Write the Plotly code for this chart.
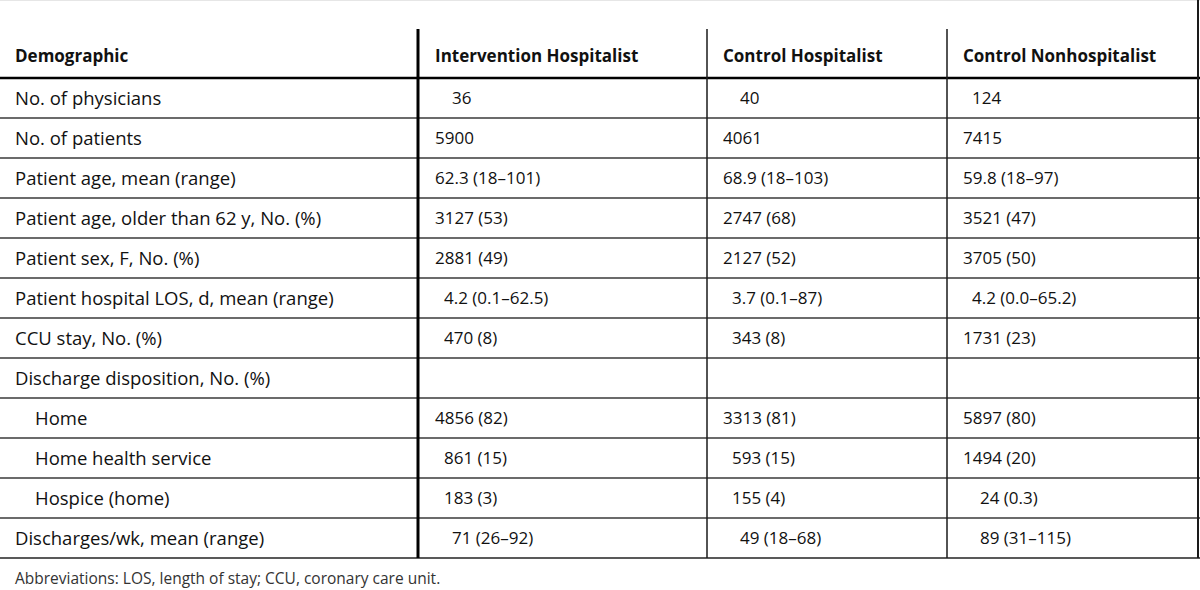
import plotly.graph_objects as go

# ---- data ----
headers = ["Demographic", "Intervention Hospitalist", "Control Hospitalist", "Control Nonhospitalist"]
demographics = [
    "No. of physicians",
    "No. of patients",
    "Patient age, mean (range)",
    "Patient age, older than 62 y, No. (%)",
    "Patient sex, F, No. (%)",
    "Patient hospital LOS, d, mean (range)",
    "CCU stay, No. (%)",
    "Discharge disposition, No. (%)",
    "Home",
    "Home health service",
    "Hospice (home)",
    "Discharges/wk, mean (range)",
]
sub_item = [False, False, False, False, False, False, False, False, True, True, True, False]
intervention_hospitalist = ["36", "5900", "62.3 (18–101)", "3127 (53)", "2881 (49)", "4.2 (0.1–62.5)",
                            "470 (8)", "", "4856 (82)", "861 (15)", "183 (3)", "71 (26–92)"]
control_hospitalist = ["40", "4061", "68.9 (18–103)", "2747 (68)", "2127 (52)", "3.7 (0.1–87)",
                       "343 (8)", "", "3313 (81)", "593 (15)", "155 (4)", "49 (18–68)"]
control_nonhospitalist = ["124", "7415", "59.8 (18–97)", "3521 (47)", "3705 (50)", "4.2 (0.0–65.2)",
                          "1731 (23)", "", "5897 (80)", "1494 (20)", "24 (0.3)", "89 (31–115)"]
footnote = "Abbreviations: LOS, length of stay; CCU, coronary care unit."

# ---- layout geometry ----
W, H = 1200, 590
col_edges = [0, 418, 707, 947, 1198]
text_pad = [13, 15, 14, 14]
table_top = 29
header_bottom = 78
row_h = 40
n_rows = len(demographics)
table_bottom = header_bottom + row_h * n_rows
digit_w = 8.5

FONT = "Open Sans"
FS = 17
TXT = "#111111"

fig = go.Figure()
shapes = []
annotations = []

# faint top page line
shapes.append(dict(type="line", x0=0, x1=W, y0=0.5, y1=0.5, line=dict(color="#e6e6e6", width=1)))

# header text
for j, h in enumerate(headers):
    annotations.append(dict(x=col_edges[j] + text_pad[j], y=(table_top + header_bottom) / 2 + 2,
                            text="<b>" + h + "</b>", showarrow=False, xanchor="left", yanchor="middle",
                            font=dict(family=FONT, size=FS, color=TXT)))

# header bottom rule
shapes.append(dict(type="line", x0=0, x1=W, y0=header_bottom, y1=header_bottom,
                   line=dict(color="#000000", width=2.5)))

columns = [intervention_hospitalist, control_hospitalist, control_nonhospitalist]


def lead_offset(s):
    if not s:
        return 0
    lead = s.split(" ")[0]
    return max(0, 4 - len(lead)) * digit_w


for i in range(n_rows):
    yc = header_bottom + row_h * i + row_h / 2 - 1
    indent = 20 if sub_item[i] else 0
    annotations.append(dict(x=col_edges[0] + text_pad[0] + indent, y=yc, text=demographics[i],
                            showarrow=False, xanchor="left", yanchor="middle",
                            font=dict(family=FONT, size=18.5, color=TXT)))
    for j, col in enumerate(columns):
        val = col[i]
        if val:
            annotations.append(dict(x=col_edges[j + 1] + text_pad[j + 1] + lead_offset(val), y=yc, text=val,
                                    showarrow=False, xanchor="left", yanchor="middle",
                                    font=dict(family=FONT, size=FS, color=TXT)))
    yl = header_bottom + row_h * (i + 1)
    last = i == n_rows - 1
    shapes.append(dict(type="line", x0=0, x1=W, y0=yl, y1=yl,
                       line=dict(color="#222222" if last else "#3a3a3a", width=1.6 if last else 1.3)))

# vertical rules
shapes.append(dict(type="line", x0=col_edges[1], x1=col_edges[1], y0=table_top, y1=table_bottom,
                   line=dict(color="#000000", width=3)))
for xe in col_edges[2:4]:
    shapes.append(dict(type="line", x0=xe, x1=xe, y0=table_top, y1=table_bottom,
                       line=dict(color="#1a1a1a", width=1.5)))
shapes.append(dict(type="line", x0=col_edges[4], x1=col_edges[4], y0=0, y1=table_bottom,
                   line=dict(color="#1a1a1a", width=2)))

# footnote
annotations.append(dict(x=13, y=table_bottom + 20, text=footnote, showarrow=False, xanchor="left",
                        yanchor="middle", font=dict(family=FONT, size=15.5, color="#333333")))

fig.update_layout(
    width=W, height=H,
    margin=dict(l=0, r=0, t=0, b=0),
    paper_bgcolor="white", plot_bgcolor="white",
    xaxis=dict(range=[0, W], visible=False, fixedrange=True),
    yaxis=dict(range=[H, 0], visible=False, fixedrange=True),
    shapes=shapes, annotations=annotations, showlegend=False,
)

fig.write_html("out.html", config={"displayModeBar": False},
               post_script="document.body.style.margin='0';document.body.style.overflow='hidden';")
